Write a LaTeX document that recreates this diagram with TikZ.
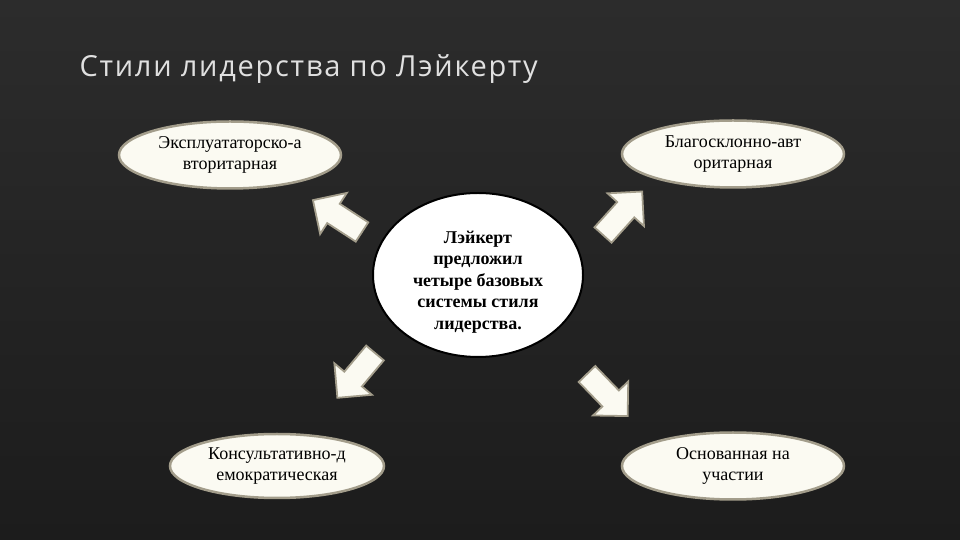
\documentclass[tikz,border=0pt]{standalone}
\usepackage{fontspec}
\setmainfont{Liberation Serif}
\newfontfamily\zagolovok[LetterSpace=6]{Open Sans}
\usetikzlibrary{shapes.geometric}
\definecolor{fonverh}{HTML}{2C2C2C}
\definecolor{fonniz}{HTML}{1C1C1C}
\definecolor{kraj}{HTML}{A39D8B}
\definecolor{krem}{HTML}{FBFAF2}
\tikzset{
	stil/.style={ellipse, draw=kraj, line width=2.5pt, fill=krem, minimum width=222pt, minimum height=67pt, inner sep=0pt, align=center, font=\fontsize{18}{21}\selectfont},
	strelka/.pic={
		\draw[draw=kraj, line width=1.8pt, fill=krem, line join=miter] (0, -11.5) -- (34, -11.5) -- (34, -24.5) -- (58.5, 0) -- (34, 24.5) -- (34, 11.5) -- (0, 11.5) -- cycle;
	}
}

\begin{document}
\begin{tikzpicture}[x=1pt, y=1pt]
			%%%%% START %%%%%
			
			\shade[top color=fonverh, bottom color=fonniz] (0, 0) rectangle (960, 540);
			\useasboundingbox (0, 0) rectangle (960, 540);
			
			\node[anchor=base west, text=black!12, font=\zagolovok\fontsize{29}{34}\selectfont] (zag) at (76, 463) {Стили лидерства по Лэйкерту};
			
			\node[ellipse, draw=black, line width=2pt, fill=white, minimum width=210pt, minimum height=164pt, inner sep=0pt, align=center, font=\bfseries\fontsize{18}{21.5}\selectfont] (centr) at (478, 265) {\rule{0pt}{26pt}Лэйкерт\\предложил\\четыре базовых\\системы стиля\\лидерства.};
			
			\node[stil] (ea) at (230, 385) {Эксплуататорско-а\\вторитарная};
			\node[stil] (ba) at (733, 386) {Благосклонно-авт\\оритарная};
			\node[stil, minimum width=214pt, minimum height=64pt] (kd) at (277, 74) {Консультативно-д\\емократическая};
			\node[stil] (ou) at (733, 74) {Основанная на\\участии};
			
			\pic[rotate=147] (s1) at (362, 308) {strelka};
			\pic[rotate=48] (s2) at (603, 305) {strelka};
			\pic[rotate=230] (s3) at (375, 187) {strelka};
			\pic[rotate=-46] (s4) at (587, 166) {strelka};
			
			%%%%% END %%%%%
\end{tikzpicture}
\end{document}
